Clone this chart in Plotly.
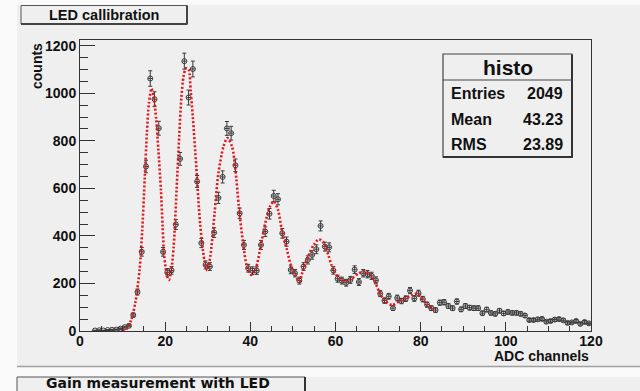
import math
import plotly.graph_objects as go

# ---------------- data ----------------
# counts per ADC channel bin (bin k covers [k, k+1)); None = empty bin (not drawn)
counts = [None, None, None, 2, 3, 2, 4, 5, 6, 10,
          16, 22, 67, 164, 333, 692, 1062, 975, 853, 333,
          247, 255, 448, 724, 1135, 982, 1102, 629, 370, 278,
          271, 414, 560, 648, 852, 832, 697, 495, 362, 264,
          254, 254, 362, 418, 493, 568, 554, 411, 376, 257,
          243, 212, 271, 299, 320, 344, 442, 355, 352, 255,
          220, 212, 203, 215, 258, 206, 243, 239, 232, 213,
          157, 128, 146, 96, 139, 126, 136, 170, 137, 159,
          134, 111, 96, 88, 119, 121, 105, 96, 124, 91,
          105, 98, 96, 96, 75, 90, 76, 72, 85, 74,
          80, 76, 76, 72, 65, 46, 46, 49, 51, 39,
          42, 48, 50, 45, 34, 36, 42, 30, 38, 32]

# fitted curve
fit_x = [10.0, 11.0, 12.0, 13.0, 14.0, 14.6, 15.2, 15.7, 16.2, 16.8,
         17.3, 17.9, 18.4, 19.0, 19.4, 19.8, 20.4, 20.9, 21.4, 22.0,
         22.7, 23.3, 23.8, 24.3, 24.9, 25.5, 26.0, 26.5, 27.3, 28.2,
         29.2, 29.9, 30.6, 31.6, 32.5, 33.7, 34.6, 35.7, 36.5, 37.3,
         38.3, 39.2, 40.2, 41.3, 42.4, 43.5, 44.5, 45.5, 46.5, 47.4,
         48.6, 49.6, 50.6, 51.5, 52.5, 53.7, 54.9, 56.1, 57.3, 58.3,
         59.1, 59.9, 60.8, 62.4, 63.9, 65.5, 66.7, 68.2, 69.4, 70.6,
         71.8, 73.3, 74.9, 76.5, 78.0, 79.1, 80.2, 81.6, 82.8, 83.6]
fit_y = [0, 10, 45, 120, 260, 420, 640, 830, 960, 1020,
         985, 890, 762, 594, 439, 313, 235, 215, 250, 355,
         600, 820, 980, 1070, 1105, 1100, 1010, 900, 692, 453,
         299, 255, 313, 495, 664, 776, 812, 776, 678, 523,
         369, 271, 236, 264, 355, 453, 520, 545, 509, 425,
         341, 271, 236, 208, 264, 320, 362, 386, 369, 320,
         275, 245, 222, 208, 222, 243, 250, 236, 201, 152,
         124, 109, 124, 138, 152, 156, 138, 109, 91, 85]

x_ticks = [0, 20, 40, 60, 80, 100, 120]
y_ticks = [0, 200, 400, 600, 800, 1000, 1200]

stats_labels = ["Entries", "Mean", "RMS"]
stats_values = ["2049", "43.23", "23.89"]

# ---------------- geometry helpers ----------------
W, H = 640, 391
PL, PR, PT, PB = 80, 591, 40, 331   # plot area in pixels


def px(x):
    return (x - PL) / (PR - PL)


def py(y):
    return (PB - y) / (PB - PT)


bin_x = [k + 0.5 for k in range(len(counts))]
err = [math.sqrt(c) if c is not None else None for c in counts]

FONT = "Liberation Sans"
DARK = "#333333"
PAD = "#efefef"

fig = go.Figure()

fig.add_trace(go.Scatter(
    x=bin_x, y=counts, mode="markers",
    marker=dict(symbol="circle-open", size=5, color="#3a3a3a", line=dict(width=1, color="#3a3a3a")),
    error_y=dict(type="data", array=err, visible=True, width=2, thickness=1, color="#3a3a3a"),
    error_x=dict(type="constant", value=0.5, visible=True, width=0, thickness=1, color="#3a3a3a"),
    showlegend=False, hoverinfo="skip"))

fig.add_trace(go.Scatter(
    x=fit_x, y=fit_y, mode="lines",
    line=dict(color="rgb(228,20,24)", width=2.6, dash="2px,2px", shape="spline", smoothing=0.8),
    showlegend=False, hoverinfo="skip"))

shapes = []
# white strips around the pads
shapes.append(dict(type="rect", xref="paper", yref="paper", x0=px(0), x1=px(W), y0=py(0), y1=py(5),
                   fillcolor="#fafafa", line=dict(width=0), layer="below"))
shapes.append(dict(type="rect", xref="paper", yref="paper", x0=px(0), x1=px(17), y0=py(0), y1=py(H),
                   fillcolor="#fafafa", line=dict(width=0), layer="below"))
shapes.append(dict(type="rect", xref="paper", yref="paper", x0=px(0), x1=px(W), y0=py(367), y1=py(377),
                   fillcolor="#fafafa", line=dict(width=0), layer="below"))
# pad bottom shadow
shapes.append(dict(type="line", xref="paper", yref="paper", x0=px(17), x1=px(W), y0=py(366.5), y1=py(366.5),
                   line=dict(color="#a0a0a0", width=1.5)))
# title box (top)
shapes.append(dict(type="rect", xref="paper", yref="paper", x0=px(21), x1=px(187), y0=py(5.5), y1=py(24),
                   fillcolor=PAD, line=dict(color="#555555", width=1)))
shapes.append(dict(type="line", xref="paper", yref="paper", x0=px(187), x1=px(187), y0=py(5.5), y1=py(24.5),
                   line=dict(color="#444444", width=2)))
shapes.append(dict(type="line", xref="paper", yref="paper", x0=px(21), x1=px(187), y0=py(24), y1=py(24),
                   line=dict(color="#444444", width=2)))
# stats box
shapes.append(dict(type="rect", xref="paper", yref="paper", x0=px(443), x1=px(572), y0=py(54), y1=py(157),
                   fillcolor=PAD, line=dict(color="#444444", width=1.2)))
shapes.append(dict(type="line", xref="paper", yref="paper", x0=px(572), x1=px(572), y0=py(54.5), y1=py(157.5),
                   line=dict(color="#333333", width=2)))
shapes.append(dict(type="line", xref="paper", yref="paper", x0=px(443), x1=px(572.5), y0=py(157), y1=py(157),
                   line=dict(color="#333333", width=2)))
shapes.append(dict(type="line", xref="paper", yref="paper", x0=px(443), x1=px(572), y0=py(80), y1=py(80),
                   line=dict(color="#444444", width=1.2)))
# bottom title box
shapes.append(dict(type="rect", xref="paper", yref="paper", x0=px(17), x1=px(305), y0=py(377), y1=py(395),
                   fillcolor=PAD, line=dict(color="#555555", width=1)))
shapes.append(dict(type="line", xref="paper", yref="paper", x0=px(305), x1=px(305), y0=py(377), y1=py(395),
                   line=dict(color="#333333", width=2)))

ann = []
ann.append(dict(text="LED callibration", xref="paper", yref="paper", x=px(104), y=py(14.5),
                xanchor="center", yanchor="middle", showarrow=False,
                font=dict(family=FONT, size=14.5, color="#111111", weight="bold")))
ann.append(dict(text="Gain measurement with LED", xref="paper", yref="paper", x=px(158), y=py(383),
                xanchor="center", yanchor="middle", showarrow=False,
                font=dict(family="DejaVu Sans", size=14, color="#111111", weight="bold")))
ann.append(dict(text="counts", xref="paper", yref="paper", x=px(37), y=py(41),
                xanchor="center", yanchor="top", textangle=-90, showarrow=False,
                font=dict(family=FONT, size=14, color="#111111", weight="bold")))
ann.append(dict(text="ADC channels", xref="paper", yref="paper", x=px(591), y=py(356),
                xanchor="right", yanchor="middle", showarrow=False,
                font=dict(family=FONT, size=14, color="#111111", weight="bold")))
ann.append(dict(text="histo", xref="paper", yref="paper", x=px(507.5), y=py(67),
                xanchor="center", yanchor="middle", showarrow=False,
                font=dict(family=FONT, size=21, color="#111111", weight="bold")))
row_y = [93, 119, 144]
for lab, val, ry in zip(stats_labels, stats_values, row_y):
    ann.append(dict(text=lab, xref="paper", yref="paper", x=px(449), y=py(ry),
                    xanchor="left", yanchor="middle", showarrow=False,
                    font=dict(family=FONT, size=16, color="#111111", weight="bold")))
    ann.append(dict(text=val, xref="paper", yref="paper", x=px(565), y=py(ry),
                    xanchor="right", yanchor="middle", showarrow=False,
                    font=dict(family=FONT, size=16, color="#111111", weight="bold")))

fig.update_layout(
    width=W, height=H,
    margin=dict(l=PL, r=W - PR, t=PT, b=H - PB, pad=0),
    paper_bgcolor=PAD, plot_bgcolor=PAD,
    shapes=shapes, annotations=ann,
    showlegend=False,
)
fig.update_xaxes(
    range=[0, 120], tickvals=x_ticks, ticktext=[str(v) for v in x_ticks],
    ticks="inside", ticklen=9, tickwidth=1, tickcolor=DARK,
    minor=dict(ticks="inside", dtick=5, ticklen=5, tickcolor=DARK, tickwidth=1),
    showline=True, linecolor=DARK, linewidth=1, mirror=True,
    showgrid=False, zeroline=False, ticklabelstandoff=-3,
    tickfont=dict(family=FONT, size=14, color="#111111", weight="bold"),
)
fig.update_yaxes(
    range=[0, 1224], tickvals=y_ticks, ticktext=[str(v) for v in y_ticks],
    ticks="inside", ticklen=15, tickwidth=1, tickcolor=DARK,
    minor=dict(ticks="inside", dtick=50, ticklen=8, tickcolor=DARK, tickwidth=1),
    showline=True, linecolor=DARK, linewidth=1, mirror=True,
    showgrid=False, zeroline=False,
    tickfont=dict(family=FONT, size=14, color="#111111", weight="bold"),
)

fig.write_html("out.html")
